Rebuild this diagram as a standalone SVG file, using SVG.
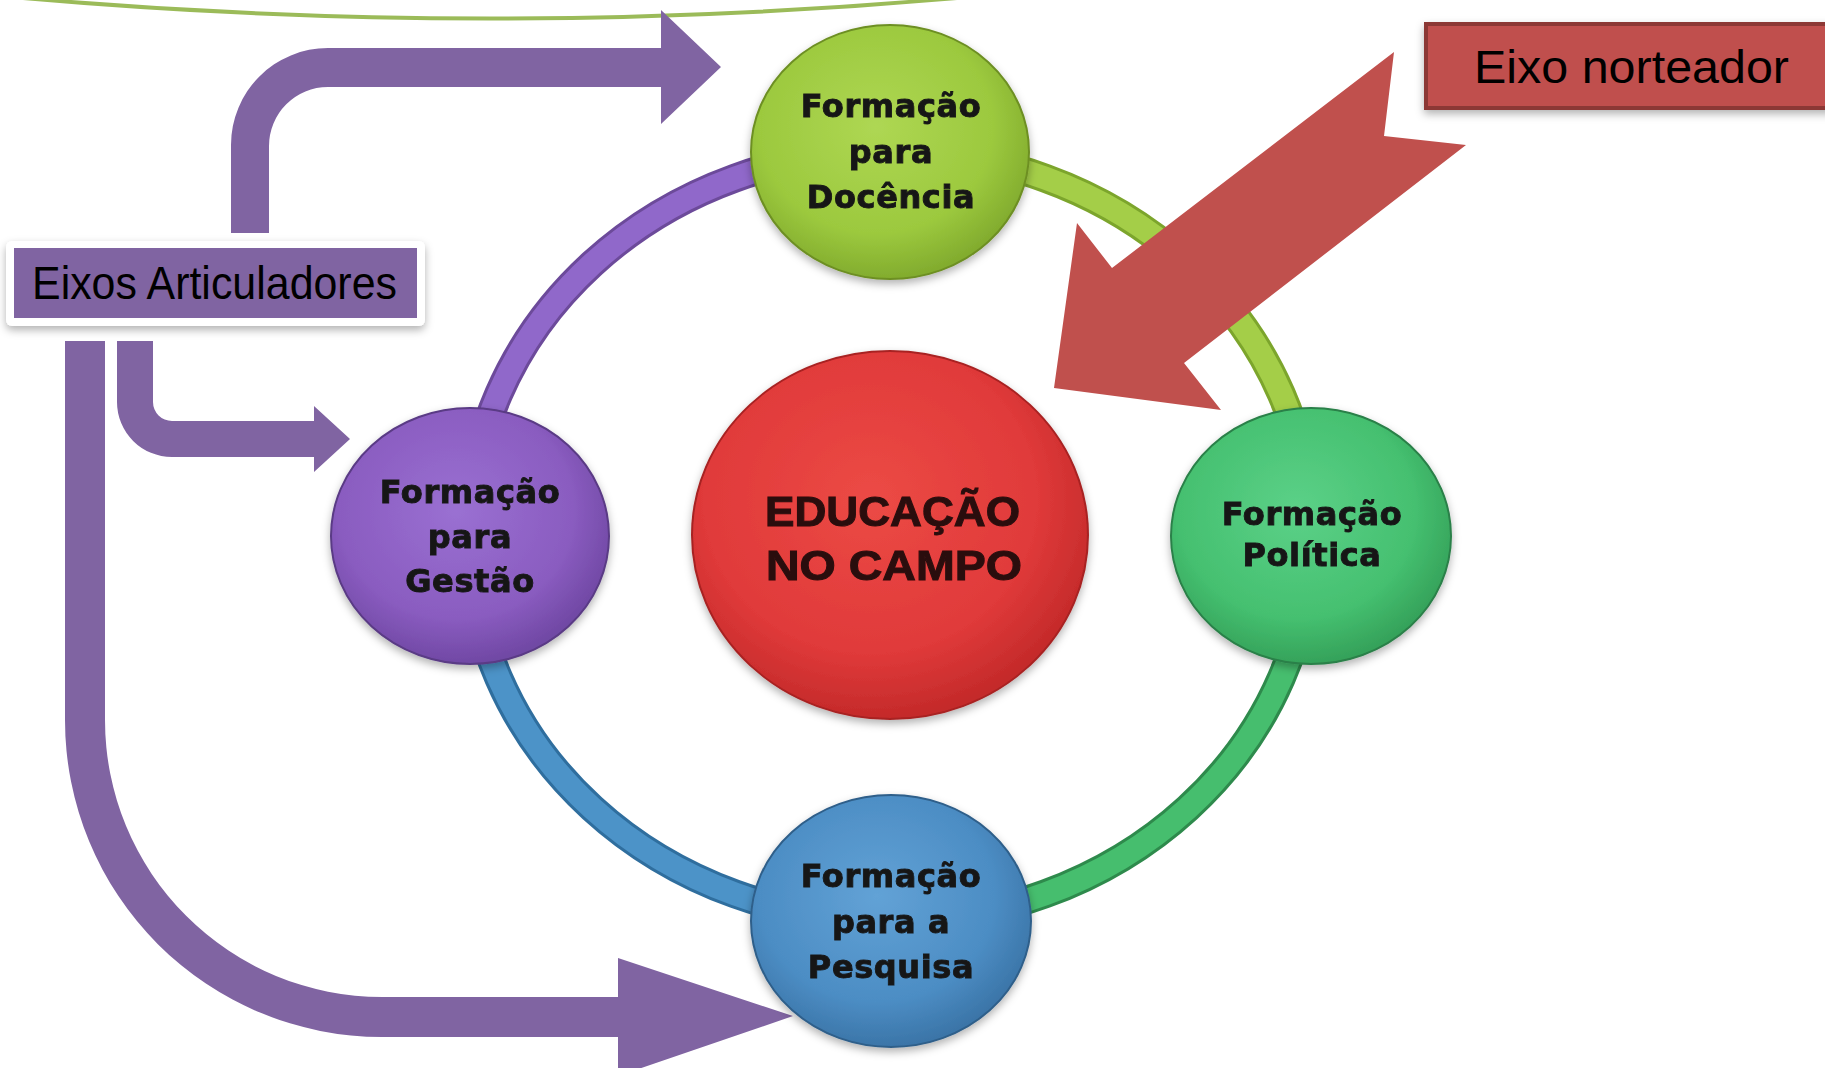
<svg xmlns="http://www.w3.org/2000/svg" width="1825" height="1068" viewBox="0 0 1825 1068">
<style>
.ntext{font-family:"DejaVu Sans","Verdana",sans-serif;font-weight:bold;font-size:32px;letter-spacing:0.6px;fill:#161616;stroke:#161616;stroke-width:0.9;text-anchor:middle}
.ctext{font-family:"Liberation Sans",Arial,sans-serif;font-weight:bold;font-size:42px;fill:#2a0c0c;stroke:#2a0c0c;stroke-width:1}
.btext{font-family:"Liberation Sans",Arial,sans-serif;fill:#000}
.arrow{fill:#8064A2}
.tubeEdge{fill:none;stroke-width:29;stroke-linecap:butt}
.tube{fill:none;stroke-width:23;stroke-linecap:butt}
</style>
<defs>
<filter id="shadow" x="-20%" y="-20%" width="140%" height="140%">
<feDropShadow dx="0" dy="4" stdDeviation="4" flood-color="#000" flood-opacity="0.3"/>
</filter>
<filter id="tshadow" x="-5%" y="-5%" width="110%" height="110%">
<feGaussianBlur stdDeviation="0.6"/>
</filter>
<radialGradient id="gDoc" cx="45%" cy="40%" r="60%">
<stop offset="0" stop-color="#AED753"/><stop offset="0.7" stop-color="#9CC93E"/><stop offset="1" stop-color="#82AC2E"/>
</radialGradient>
<radialGradient id="gGes" cx="45%" cy="40%" r="60%">
<stop offset="0" stop-color="#9A70D2"/><stop offset="0.7" stop-color="#8A5CC0"/><stop offset="1" stop-color="#7048A4"/>
</radialGradient>
<radialGradient id="gPol" cx="45%" cy="40%" r="60%">
<stop offset="0" stop-color="#5CD188"/><stop offset="0.7" stop-color="#45C070"/><stop offset="1" stop-color="#35A25A"/>
</radialGradient>
<radialGradient id="gPes" cx="45%" cy="40%" r="60%">
<stop offset="0" stop-color="#62A2D6"/><stop offset="0.7" stop-color="#4C8DC4"/><stop offset="1" stop-color="#3B75A8"/>
</radialGradient>
<radialGradient id="gRed" cx="45%" cy="40%" r="60%">
<stop offset="0" stop-color="#EC4A45"/><stop offset="0.7" stop-color="#E03A3A"/><stop offset="1" stop-color="#C42A2A"/>
</radialGradient>
</defs>
<rect width="1825" height="1068" fill="#fff"/>

<path d="M-10,-5 Q490,42 990,-5" fill="none" stroke="#9BBB59" stroke-width="4"/>

<g id="connectors">
<g id="ring">
<path class="tubeEdge" stroke="#6C4A9A" d="M469,536 A421,385 0 0 1 890,151"/>
<path class="tube" stroke="#9068CA" d="M469,536 A421,385 0 0 1 890,151"/>
<path class="tubeEdge" stroke="#7CA52C" d="M890,151 A421,385 0 0 1 1311,536"/>
<path class="tube" stroke="#A4CE48" d="M890,151 A421,385 0 0 1 1311,536"/>
<path class="tubeEdge" stroke="#2E8A4C" d="M1311,536 A421,385 0 0 1 890,921"/>
<path class="tube" stroke="#46BE6E" d="M1311,536 A421,385 0 0 1 890,921"/>
<path class="tubeEdge" stroke="#2F6E9E" d="M890,921 A421,385 0 0 1 469,536"/>
<path class="tube" stroke="#4C93C8" d="M890,921 A421,385 0 0 1 469,536"/>
</g>
<path id="arrow-docencia" class="arrow" d="M231,233 L231,145 A97,97 0 0 1 328,48 L661,48 L661,10 L721,67 L661,124 L661,87 L328,87 A59,59 0 0 0 269,146 L269,233 Z"/>
<path id="arrow-gestao" class="arrow" d="M117,341 L117,402 A55,55 0 0 0 172,457 L314,457 L314,472 L350,439 L314,406 L314,421 L172,421 A19,19 0 0 1 153,402 L153,341 Z"/>
<path id="arrow-pesquisa" class="arrow" d="M65,341 L65,720 A317,317 0 0 0 382,1037 L618,1037 L618,1076 L793,1016 L618,958 L618,997 L382,997 A277,277 0 0 1 105,720 L105,341 Z"/>
</g>

<g id="node-docencia">
<ellipse cx="890" cy="152" rx="139" ry="127" fill="url(#gDoc)" stroke="#6D8F24" stroke-width="2" filter="url(#shadow)"/>
<g filter="url(#tshadow)">
<text class="ntext" x="891" y="117">Formação</text>
<text class="ntext" x="891" y="163">para</text>
<text class="ntext" x="891" y="208">Docência</text>
</g>
</g>

<g id="node-gestao">
<ellipse cx="470" cy="536" rx="139" ry="128" fill="url(#gGes)" stroke="#5A3A85" stroke-width="2" filter="url(#shadow)"/>
<g filter="url(#tshadow)">
<text class="ntext" x="470" y="503">Formação</text>
<text class="ntext" x="470" y="548">para</text>
<text class="ntext" x="470" y="592">Gestão</text>
</g>
</g>

<g id="node-politica">
<ellipse cx="1311" cy="536" rx="140" ry="128" fill="url(#gPol)" stroke="#2A8048" stroke-width="2" filter="url(#shadow)"/>
<g filter="url(#tshadow)">
<text class="ntext" x="1312" y="525">Formação</text>
<text class="ntext" x="1312" y="566">Política</text>
</g>
</g>

<g id="node-pesquisa">
<ellipse cx="891" cy="921" rx="140" ry="126" fill="url(#gPes)" stroke="#2F5F8A" stroke-width="2" filter="url(#shadow)"/>
<g filter="url(#tshadow)">
<text class="ntext" x="891" y="887">Formação</text>
<text class="ntext" x="891" y="933">para a</text>
<text class="ntext" x="891" y="978">Pesquisa</text>
</g>
</g>

<g id="node-educacao">
<ellipse cx="890" cy="535" rx="198" ry="184" fill="url(#gRed)" stroke="#A82222" stroke-width="2" filter="url(#shadow)"/>
<g filter="url(#tshadow)">
<text class="ctext" x="765" y="526" textLength="255" lengthAdjust="spacingAndGlyphs">EDUCAÇÃO</text>
<text class="ctext" x="766" y="580" textLength="256" lengthAdjust="spacingAndGlyphs">NO CAMPO</text>
</g>
</g>

<g id="eixo-norteador-arrow">
<polygon points="1394,52 1384,136 1466,145 1184,363 1221,410 1054,388 1077,223 1112,268" fill="#C0504D"/>
</g>

<g id="node-eixos-articuladores">
<rect x="6" y="241" width="419" height="85" rx="6" fill="#fff" filter="url(#shadow)"/>
<rect x="14" y="248" width="403" height="70" fill="#8064A2"/>
<text class="btext" x="32" y="299" font-size="46" textLength="365" lengthAdjust="spacingAndGlyphs">Eixos Articuladores</text>
</g>

<g id="node-eixo-norteador">
<rect x="1426" y="24" width="410" height="84" fill="#C0504D" stroke="#8C3836" stroke-width="4" filter="url(#shadow)"/>
<text class="btext" x="1474" y="83" font-size="47" textLength="315" lengthAdjust="spacingAndGlyphs">Eixo norteador</text>
</g>
</svg>
